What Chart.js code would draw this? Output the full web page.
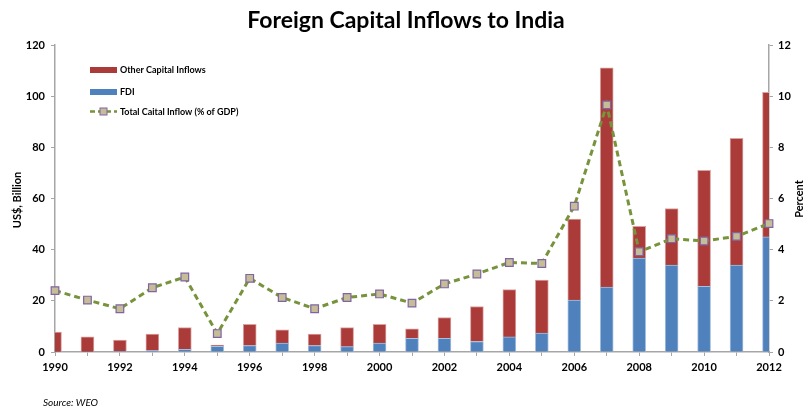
<!DOCTYPE html>
<html>
<head>
<meta charset="utf-8">
<script src="https://cdn.jsdelivr.net/npm/chart.js@4.4.1/dist/chart.umd.min.js"></script>
<style>
    html, body { margin: 0; padding: 0; background: #fff; }
    #wrap { width: 806px; height: 410px; position: relative; }
</style>
</head>
<body>
<div id="wrap"><canvas id="inflowChart" width="806" height="410"></canvas></div>
<script>
// Data
const years = ['1990', '1991', '1992', '1993', '1994', '1995', '1996', '1997', '1998', '1999', '2000',
    '2001', '2002', '2003', '2004', '2005', '2006', '2007', '2008', '2009', '2010', '2011', '2012'];
const fdi = [0.1, 0.1, 0.3, 0.6, 1.0, 2.2, 2.5, 3.5, 2.5, 2.1, 3.5,
    5.3, 5.3, 4.1, 5.9, 7.4, 20.3, 25.4, 36.7, 34.0, 25.7, 34.0, 45.0];
const otherInflows = [7.7, 5.8, 4.4, 6.4, 8.5, 0.5, 8.3, 5.2, 4.5, 7.4, 7.3,
    3.8, 8.2, 13.7, 18.5, 20.7, 31.7, 85.7, 12.4, 22.1, 45.3, 49.5, 56.5];
const inflowPctGdp = [2.40, 2.03, 1.69, 2.51, 2.93, 0.72, 2.88, 2.13, 1.69, 2.13, 2.27,
    1.91, 2.66, 3.05, 3.50, 3.46, 5.70, 9.66, 3.92, 4.43, 4.34, 4.52, 5.02];
const leftTicks = [0, 20, 40, 60, 80, 100, 120];
const rightTicks = [0, 2, 4, 6, 8, 10, 12];

const RED = '#AA3B39';
const BLUE = '#4F81BD';
const GREEN = '#77933C';
const AXIS = '#A6A6A6';
const FONT = 'Lato, "Open Sans", sans-serif';

// Title, legend, axis titles and source note
const decorations = {
    id: 'decorations',
    afterDraw(chart) {
        const ctx = chart.ctx;
        ctx.save();
        ctx.fillStyle = '#000';
        ctx.textBaseline = 'middle';

        ctx.font = 'bold 23px ' + FONT;
        ctx.textAlign = 'center';
        ctx.fillText('Foreign Capital Inflows to India', 406, 21);

        // legend
        ctx.textAlign = 'left';
        ctx.font = 'bold 9px ' + FONT;
        ctx.fillStyle = RED;
        ctx.fillRect(90, 67, 27, 6);
        ctx.fillStyle = BLUE;
        ctx.fillRect(90, 89, 27, 6);
        ctx.strokeStyle = GREEN;
        ctx.lineWidth = 2.5;
        ctx.setLineDash([5, 3]);
        ctx.beginPath();
        ctx.moveTo(90, 111.5);
        ctx.lineTo(117, 111.5);
        ctx.stroke();
        ctx.setLineDash([]);
        ctx.fillStyle = '#C4BD97';
        ctx.strokeStyle = '#8064A2';
        ctx.lineWidth = 1;
        ctx.fillRect(100, 108, 7, 7);
        ctx.strokeRect(100, 108, 7, 7);
        ctx.fillStyle = '#000';
        ctx.fillText('Other Capital Inflows', 120, 70);
        ctx.fillText('FDI', 120, 92);
        ctx.fillText('Total Caital Inflow (% of GDP)', 120, 112);

        // axis titles
        ctx.font = 'bold 11px ' + FONT;
        ctx.textAlign = 'center';
        ctx.translate(17, 200);
        ctx.rotate(-Math.PI / 2);
        ctx.fillText('US$, Billion', 0, 0);
        ctx.setTransform(1, 0, 0, 1, 0, 0);
        ctx.translate(799, 199);
        ctx.rotate(-Math.PI / 2);
        ctx.fillText('Percent', 0, 0);
        ctx.setTransform(1, 0, 0, 1, 0, 0);

        ctx.font = 'italic 10px ' + FONT;
        ctx.textAlign = 'left';
        ctx.fillText('Source: WEO', 43, 403);
        ctx.restore();
    }
};

const ctx = document.getElementById('inflowChart').getContext('2d');
new Chart(ctx, {
    type: 'bar',
    data: {
        labels: years,
        datasets: [{
            type: 'line',
            label: 'Total Caital Inflow (% of GDP)',
            data: inflowPctGdp,
            yAxisID: 'y1',
            borderColor: GREEN,
            borderWidth: 3,
            borderDash: [6, 4],
            pointStyle: 'rect',
            pointRadius: 5.4,
            pointBackgroundColor: '#C4BD97',
            pointBorderColor: '#8064A2',
            pointBorderWidth: 1.2,
            tension: 0,
            clip: false,
            order: 0
        }, {
            label: 'FDI',
            data: fdi,
            backgroundColor: BLUE,
            borderColor: '#A7C0DE',
            borderWidth: { top: 1, left: 1, right: 1, bottom: 0 },
            barThickness: 13,
            stack: 'inflows',
            order: 1
        }, {
            label: 'Other Capital Inflows',
            data: otherInflows,
            backgroundColor: RED,
            borderColor: '#D9A3A2',
            borderWidth: { top: 1, left: 1, right: 1, bottom: 0 },
            barThickness: 13,
            stack: 'inflows',
            order: 1
        }]
    },
    options: {
        responsive: false,
        animation: false,
        layout: { padding: { top: 45, left: 0, right: 0, bottom: 0 } },
        plugins: {
            legend: { display: false },
            tooltip: { enabled: false }
        },
        scales: {
            x: {
                stacked: true,
                offset: false,
                grid: { display: true, drawOnChartArea: false, offset: false, color: AXIS, tickLength: 4, lineWidth: 1 },
                border: { color: AXIS, width: 1.5 },
                ticks: {
                    autoSkip: false,
                    maxRotation: 0,
                    padding: 5,
                    color: '#000',
                    font: { family: FONT, size: 11, weight: 'bold' },
                    callback: (v, i) => (i % 2 === 0 ? years[i] : '')
                },
                afterFit: (s) => { s.height = 58; }
            },
            y: {
                stacked: true,
                min: 0,
                max: 120,
                afterBuildTicks: (s) => { s.ticks = leftTicks.map(v => ({ value: v })); },
                grid: { display: true, drawOnChartArea: false, color: AXIS, tickLength: 4 },
                border: { color: AXIS, width: 1.5 },
                ticks: {
                    padding: 6,
                    color: '#000',
                    font: { family: FONT, size: 11, weight: 'bold' }
                },
                afterFit: (s) => { s.width = 55; }
            },
            y1: {
                position: 'right',
                min: 0,
                max: 12,
                afterBuildTicks: (s) => { s.ticks = rightTicks.map(v => ({ value: v })); },
                grid: { display: true, drawOnChartArea: false, color: AXIS, tickLength: 4 },
                border: { color: AXIS, width: 1.5 },
                ticks: {
                    padding: 5,
                    color: '#000',
                    font: { family: FONT, size: 11, weight: 'bold' }
                },
                afterFit: (s) => { s.width = 37; }
            }
        }
    },
    plugins: [decorations]
});
</script>
</body>
</html>
